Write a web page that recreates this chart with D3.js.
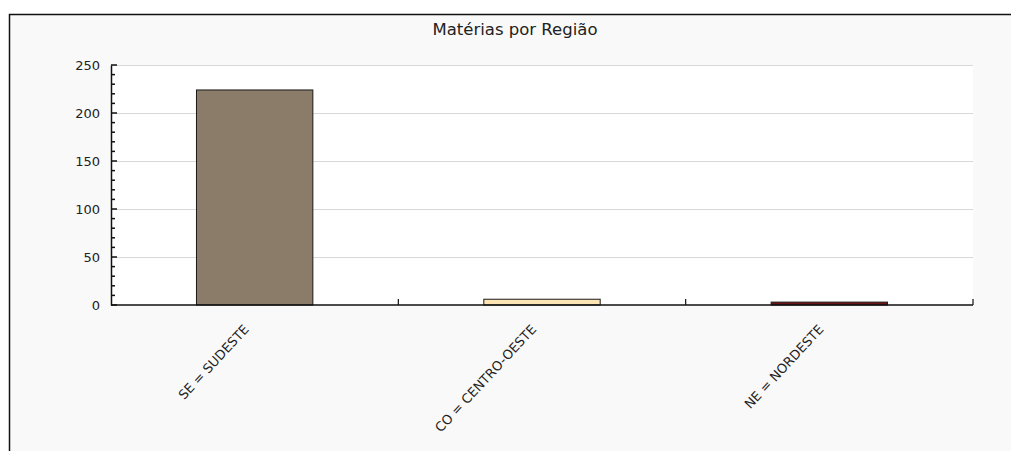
<!DOCTYPE html>
<html>
<head>
  <meta charset="utf-8">
  <script src="https://d3js.org/d3.v7.min.js"></script>
  <style>
    body { margin: 0; background: #ffffff; }
    text { font-family: "DejaVu Sans", sans-serif; fill: #222; }
  </style>
</head>
<body>
<script>
  // chart data
  var regions = ["SE = SUDESTE", "CO = CENTRO-OESTE", "NE = NORDESTE"];
  var counts = [224, 6, 3];
  var colors = ["#8b7b69", "#fde4b4", "#6e1414"];
  var yTicks = [0, 50, 100, 150, 200, 250];
  var title = "Matérias por Região";

  (function () {
    var width = 1011, height = 451;
    var mLeft = 111, mRight = 973, mTop = 65, mBottom = 305;

    var svg = d3.select("body").append("svg")
        .attr("width", width)
        .attr("height", height);

    // outer panel
    svg.append("rect")
        .attr("x", 9.5).attr("y", 14.5)
        .attr("width", 1020).attr("height", 460)
        .style("fill", "#f9f9f9")
        .style("stroke", "#111")
        .style("stroke-width", 1.5);

    svg.append("text")
        .attr("x", 515).attr("y", 35)
        .attr("text-anchor", "middle")
        .style("font-size", "16.5px")
        .text(title);

    var x = d3.scaleBand().domain(regions).range([mLeft, mRight]);
    var y = d3.scaleLinear().domain([0, 250]).range([mBottom, mTop]);

    // plot background
    svg.append("rect")
        .attr("x", mLeft).attr("y", mTop)
        .attr("width", mRight - mLeft).attr("height", mBottom - mTop)
        .style("fill", "#ffffff");

    // gridlines
    svg.selectAll("line.grid")
      .data(yTicks.slice(1))
      .enter().append("line")
        .attr("class", "grid")
        .attr("x1", mLeft).attr("x2", mRight)
        .attr("y1", function (d) { return Math.round(y(d)) + 0.5; })
        .attr("y2", function (d) { return Math.round(y(d)) + 0.5; })
        .style("stroke", "#d8d8d8");

    // bars
    var barW = x.bandwidth() * 0.405;
    svg.selectAll("rect.bar")
      .data(regions)
      .enter().append("rect")
        .attr("class", "bar")
        .attr("x", function (d) { return x(d) + (x.bandwidth() - barW) / 2; })
        .attr("y", function (d, i) { return y(counts[i]); })
        .attr("width", barW)
        .attr("height", function (d, i) { return mBottom - y(counts[i]); })
        .style("fill", function (d, i) { return colors[i]; })
        .style("stroke", "#1a1a1a")
        .style("stroke-width", 1);

    // y axis
    var yAxis = svg.append("g")
        .attr("transform", "translate(" + mLeft + ",0)")
        .call(d3.axisLeft(y).tickValues(yTicks).tickSize(0).tickPadding(11));
    yAxis.select(".domain").style("stroke", "#111").style("stroke-width", 1.5);
    yAxis.selectAll("text").style("font-size", "13px").style("fill", "#222");

    // minor ticks on the inside
    var minor = d3.range(0, 251, 10);
    yAxis.selectAll("line.minor")
      .data(minor)
      .enter().append("line")
        .attr("class", "minor")
        .attr("x1", 0)
        .attr("x2", function (d) { return d % 50 === 0 ? 6 : 4; })
        .attr("y1", function (d) { return y(d); })
        .attr("y2", function (d) { return y(d); })
        .style("stroke", "#111")
        .style("stroke-width", 1.5);

    // x axis
    var xAxis = svg.append("g")
        .attr("transform", "translate(0," + mBottom + ")");
    xAxis.append("line")
        .attr("x1", mLeft).attr("x2", mRight)
        .attr("y1", 0).attr("y2", 0)
        .style("stroke", "#111").style("stroke-width", 1.5);
    xAxis.selectAll("line.sep")
      .data(regions.slice(1).concat([null]))
      .enter().append("line")
        .attr("class", "sep")
        .attr("x1", function (d) { return d ? x(d) : mRight; })
        .attr("x2", function (d) { return d ? x(d) : mRight; })
        .attr("y1", 0).attr("y2", -6)
        .style("stroke", "#111").style("stroke-width", 1.2);

    xAxis.selectAll("text.lbl")
      .data(regions)
      .enter().append("text")
        .attr("class", "lbl")
        .attr("text-anchor", "end")
        .attr("transform", function (d) {
          return "translate(" + (x(d) + x.bandwidth() / 2 - 5) + ",25) rotate(-47)";
        })
        .style("font-size", "13px")
        .text(function (d) { return d; });
  })();
</script>
</body>
</html>
